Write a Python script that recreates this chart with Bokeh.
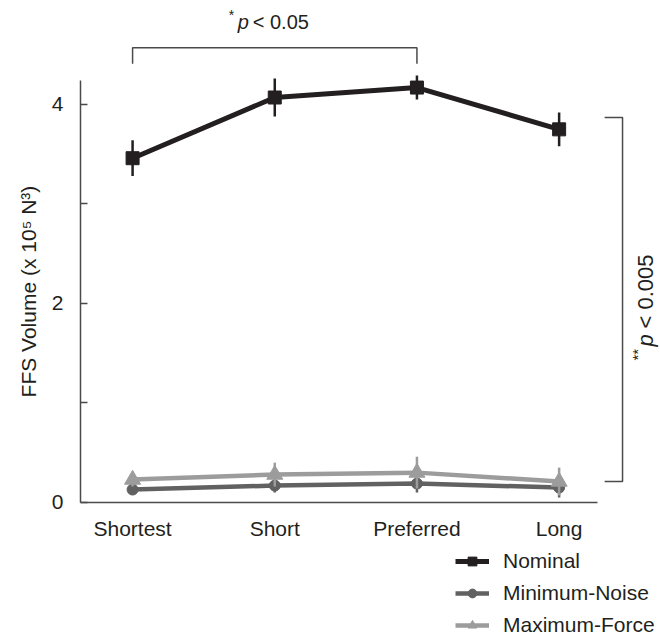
import math
from bokeh.plotting import figure
from bokeh.models import Legend, LegendItem, FixedTicker, Range1d
from bokeh.embed import file_html
from bokeh.resources import INLINE
from bokeh.core.properties import value

# ---- data ----
categories = ["Shortest", "Short", "Preferred", "Long"]
nominal = [3.46, 4.07, 4.17, 3.75]
nominal_err = [0.18, 0.19, 0.12, 0.17]
min_noise = [0.13, 0.17, 0.19, 0.15]
min_noise_err = [0.04, 0.07, 0.09, 0.10]
max_force = [0.23, 0.28, 0.30, 0.21]
max_force_err = [0.07, 0.12, 0.16, 0.14]
y_ticks = [0, 1, 2, 3, 4]
y_tick_labels = ["0", "", "2", "", "4"]
y_title = "FFS Volume (x 10\u2075 N\u00b3)"

FONT = "Liberation Sans"
C_NOM = "#231f20"
C_MIN = "#616161"
C_MAX = "#9c9c9c"
AX = "#4a4a4a"
TXT = "#231f20"

xs = list(range(len(categories)))
X0 = -0.366   # where the y axis sits
Y_TOP = 4.24  # top of drawn y axis

p = figure(width=660, height=637, output_backend="svg", toolbar_location=None,
           x_range=Range1d(-0.929, 3.713), y_range=Range1d(-1.357, 5.045),
           min_border_left=0, min_border_right=0, min_border_top=0,
           min_border_bottom=0)
p.outline_line_color = None
p.grid.visible = False
p.background_fill_color = "white"
p.border_fill_color = "white"

# x axis (pinned at y = 0 inside the frame)
p.xaxis.fixed_location = 0
p.xaxis.ticker = FixedTicker(ticks=xs)
p.xaxis.major_label_overrides = {i: c for i, c in zip(xs, categories)}
p.xaxis.bounds = (X0, 3.27)
p.xaxis.major_tick_in = 0
p.xaxis.major_tick_out = 0
p.xaxis.minor_tick_line_color = None
p.xaxis.major_label_standoff = 15
# y axis (pinned at x = X0)
p.yaxis.fixed_location = X0
p.yaxis.ticker = FixedTicker(ticks=y_ticks)
p.yaxis.major_label_overrides = {t: l for t, l in zip(y_ticks, y_tick_labels)}
p.yaxis.bounds = (0, Y_TOP)
p.yaxis.major_tick_in = 7
p.yaxis.major_tick_out = 0
p.yaxis.minor_tick_line_color = None
p.yaxis.major_label_standoff = 17
for ax in (p.xaxis, p.yaxis):
    ax.axis_line_color = AX
    ax.axis_line_width = 1.5
    ax.major_tick_line_color = AX
    ax.major_tick_line_width = 1.5
    ax.major_label_text_font = FONT
    ax.major_label_text_font_size = "21px"
    ax.major_label_text_color = TXT

# y-axis title, centred on the drawn part of the axis
p.text([X0 - 0.366], [Y_TOP / 2], text=[y_title], angle=math.pi / 2,
       text_align="center", text_baseline="middle", text_font=value(FONT),
       text_font_size="21px", text_color=TXT)

def series(vals, errs, color, marker, size, lw):
    lo = [v - e for v, e in zip(vals, errs)]
    hi = [v + e for v, e in zip(vals, errs)]
    p.segment(x0=xs, y0=lo, x1=xs, y1=hi, line_color=color, line_width=2.5)
    ln = p.line(xs, vals, line_color=color, line_width=lw)
    sc = p.scatter(xs, vals, marker=marker, size=size, fill_color=color,
                   line_color=color)
    return ln, sc

mn = series(min_noise, min_noise_err, C_MIN, "circle", 11, 4.5)
mx = series(max_force, max_force_err, C_MAX, "triangle", 16, 4.5)
nm = series(nominal, nominal_err, C_NOM, "square", 13, 5)

# ---- significance brackets ----
top_y, top_leg = 4.57, 4.41
p.line([0, 0, 2, 2], [top_leg, top_y, top_y, top_leg], line_color=AX, line_width=1.5)
txt_y = 4.83
xc = 1.0
p.text([xc], [txt_y], text=["*"], x_offset=-46, y_offset=-7, text_font=value(FONT),
       text_font_size="14px", text_color=TXT, text_baseline="alphabetic")
p.text([xc], [txt_y], text=["p"], x_offset=-37, text_font=value(FONT),
       text_font_style="italic", text_font_size="20px", text_color=TXT,
       text_baseline="alphabetic")
p.text([xc], [txt_y], text=["< 0.05"], x_offset=-22, text_font=value(FONT),
       text_font_size="20px", text_color=TXT, text_baseline="alphabetic")

rx0, rx1 = 3.32, 3.446
ry_top, ry_bot = 3.87, 0.21
p.line([rx0, rx1, rx1, rx0], [ry_top, ry_top, ry_bot, ry_bot], line_color=AX, line_width=1.5)
rtx, rty = 3.607, 2.03
ang = math.pi / 2
p.text([rtx], [rty], text=["**"], angle=ang, x_offset=-8, y_offset=60,
       text_font=value(FONT), text_font_size="15px", text_color=TXT,
       text_baseline="alphabetic")
p.text([rtx], [rty], text=["p"], angle=ang, y_offset=46, text_font=value(FONT),
       text_font_style="italic", text_font_size="22px", text_color=TXT,
       text_baseline="alphabetic")
p.text([rtx], [rty], text=["< 0.005"], angle=ang, y_offset=28, text_font=value(FONT),
       text_font_size="22px", text_color=TXT, text_baseline="alphabetic")

# ---- legend ----
legend = Legend(items=[
    LegendItem(label="Nominal", renderers=[nm[0], nm[1]]),
    LegendItem(label="Minimum-Noise", renderers=[mn[0], mn[1]]),
    LegendItem(label="Maximum-Force", renderers=[mx[0], mx[1]]),
], location=(455, 0), orientation="vertical")
legend.border_line_color = None
legend.background_fill_alpha = 0
legend.label_text_font = FONT
legend.label_text_font_size = "21px"
legend.label_text_color = TXT
legend.glyph_width = 34
legend.glyph_height = 22
legend.label_height = 22
legend.label_standoff = 14
legend.spacing = 8
legend.padding = 0
legend.margin = 0
p.add_layout(legend, "center")

open("out.html", "w").write(file_html(p, INLINE))
